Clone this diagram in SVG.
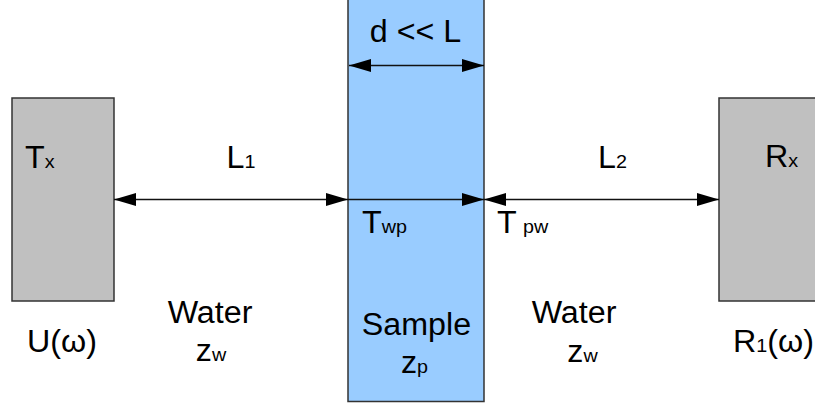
<svg xmlns="http://www.w3.org/2000/svg" width="815" height="406" viewBox="0 0 815 406">
  <style>
    .box { fill: #c0c0c0; stroke: #333333; stroke-width: 1.5; }
    .sample { fill: #99ccff; stroke: #333333; stroke-width: 1.5; }
    .t { font-family: "Liberation Sans", Arial, sans-serif; font-size: 31px; fill: #000000; }
    .s { font-size: 19px; }
    .c { text-anchor: middle; }
    .line { stroke: #111111; stroke-width: 1.5; fill: none; }
  </style>
  <defs>
    <marker id="ah" markerUnits="userSpaceOnUse" markerWidth="22" markerHeight="14" refX="22" refY="7" orient="auto-start-reverse" viewBox="0 0 22 14">
      <path d="M0,0.5 L22,7 L0,13.5 z" fill="#000000"/>
    </marker>
  </defs>
  <rect width="815" height="406" fill="#ffffff"/>

  <g id="sample">
    <rect class="sample" x="348" y="-2" width="136" height="403.5"/>
    <text class="t c" transform="translate(416.5,335) scale(1.04,1)">Sample</text>
    <text class="t c" transform="translate(414.5,373) scale(1.04,1)">z<tspan class="s">p</tspan></text>
  </g>

  <g id="transmitter">
    <rect class="box" x="12" y="98" width="102" height="203"/>
    <text class="t" transform="translate(25,168) scale(1.04,1)">T<tspan class="s">x</tspan></text>
    <text class="t c" transform="translate(62,352) scale(1.04,1)">U(ω)</text>
  </g>

  <g id="receiver">
    <rect class="box" x="719" y="98" width="100" height="203"/>
    <text class="t" transform="translate(765,167) scale(1.04,1)">R<tspan class="s">x</tspan></text>
    <text class="t c" transform="translate(773.5,352) scale(1.04,1)">R<tspan class="s">1</tspan>(ω)</text>
  </g>

  <g id="water-left">
    <text class="t c" transform="translate(210,323) scale(1.04,1)">Water</text>
    <text class="t c" transform="translate(211,361) scale(1.04,1)">z<tspan class="s">w</tspan></text>
  </g>

  <g id="water-right">
    <text class="t c" transform="translate(574,323) scale(1.04,1)">Water</text>
    <text class="t c" transform="translate(582.5,362) scale(1.04,1)">z<tspan class="s">w</tspan></text>
  </g>

  <g id="connectors">
    <line class="line" x1="114" y1="199.5" x2="348" y2="199.5" marker-start="url(#ah)" marker-end="url(#ah)"/>
    <line class="line" x1="348" y1="199.5" x2="484" y2="199.5" marker-end="url(#ah)"/>
    <line class="line" x1="484" y1="199.5" x2="719" y2="199.5" marker-start="url(#ah)" marker-end="url(#ah)"/>
    <line class="line" x1="349" y1="65.5" x2="484" y2="65.5" marker-start="url(#ah)" marker-end="url(#ah)"/>
  </g>

  <g id="labels">
    <text class="t c" transform="translate(415.5,42) scale(1.04,1)">d &lt;&lt; L</text>
    <text class="t c" transform="translate(241,168) scale(1.04,1)">L<tspan class="s">1</tspan></text>
    <text class="t c" transform="translate(612.5,168) scale(1.04,1)">L<tspan class="s">2</tspan></text>
    <text class="t" transform="translate(362,233) scale(1.04,1)">T<tspan class="s">wp</tspan></text>
    <text class="t" transform="translate(497,233) scale(1.04,1)">T<tspan class="s" dx="6">pw</tspan></text>
  </g>
</svg>
